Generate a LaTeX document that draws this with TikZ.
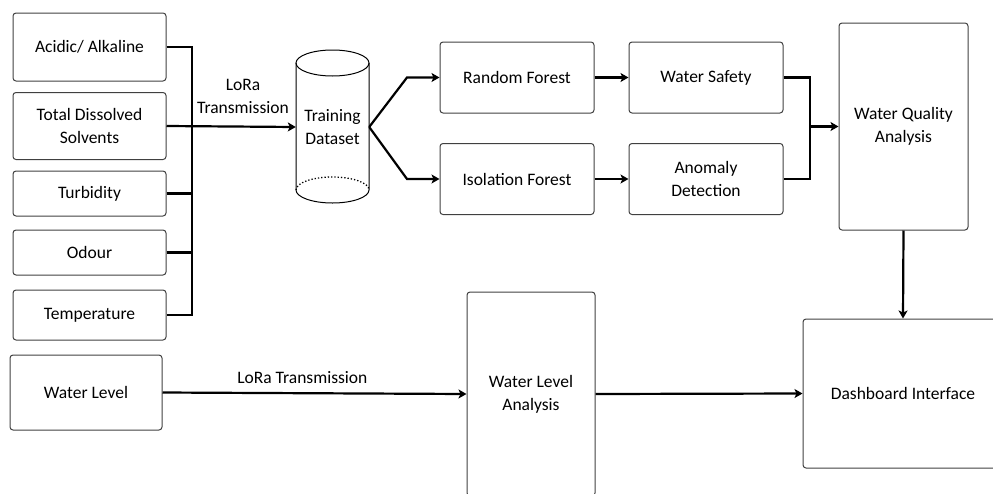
\documentclass[tikz,border=0pt]{standalone}
\usepackage{fontspec}
\setmainfont{Carlito}
\usetikzlibrary{arrows.meta}
\tikzset{
  box/.style={draw=black!75, line width=1pt, rounded corners=3pt, align=center, inner sep=0pt},
  conn/.style={line width=2.2pt, black},
  arr/.style={conn, -{Stealth[length=8pt,width=9pt,inset=2pt]}},
}
\begin{document}
\begin{tikzpicture}[x=1pt, y=-1pt, font=\fontsize{17.5}{23}\selectfont]
\path[use as bounding box] (0,0) rectangle (993,493);
\clip (0,0) rectangle (993,493);
% sensors
\node[box, minimum width=153, minimum height=68] (acid) at (89.5,47) {Acidic/ Alkaline};
\node[box, minimum width=153, minimum height=67] (tds) at (89.5,126) {Total Dissolved\\Solvents};
\node[box, minimum width=153, minimum height=45] (turb) at (89.5,193.5) {Turbidity};
\node[box, minimum width=153, minimum height=45] (odour) at (89.5,252.5) {Odour};
\node[box, minimum width=153, minimum height=50] (temp) at (89.5,315) {Temperature};
\node[box, minimum width=152, minimum height=75] (wlevel) at (86,392.5) {Water Level};
\coordinate (bus) at (192,0);
\draw[conn] (acid.east) -| (bus |- temp.east) -- (temp.east);
\draw[conn] (turb.east) -- (turb.east -| bus);
\draw[conn] (odour.east) -- (odour.east -| bus);
% training dataset
\draw[line width=1pt] (332.5,63) ellipse[x radius=36.5, y radius=13];
\draw[line width=1pt] (296,63) -- (296,190) arc[start angle=180, end angle=0, x radius=36.5, y radius=13] -- (369,63);
\draw[line width=1.3pt, dotted] (296,190) arc[start angle=180, end angle=360, x radius=36.5, y radius=13];
\node[minimum width=73, minimum height=100, align=center, inner sep=0pt] (train) at (332.5,127) {Training\\Dataset};
\draw[arr] (tds.east) -- (train.west);
\node[align=center] (lora1) at (243,96) {LoRa\\Transmission};
% models
\node[box, minimum width=154, minimum height=71] (rf) at (517,77.5) {Random Forest};
\node[box, minimum width=154, minimum height=71] (iso) at (517,179) {Isolation Forest};
\node[box, minimum width=154, minimum height=71] (ws) at (706,77.5) {Water Safety};
\node[box, minimum width=154, minimum height=71] (ad) at (706,179) {Anomaly\\Detection};
\coordinate (fork) at (407,0);
\draw[arr] (train.east) -- (fork |- rf.west) -- (rf.west);
\draw[arr] (train.east) -- (fork |- iso.west) -- (iso.west);
\draw[arr] (rf.east) -- (ws.west);
\draw[arr] (iso.east) -- (ad.west);
\node[box, minimum width=129, minimum height=207] (wqa) at (903.5,126.5) {Water Quality\\Analysis};
\coordinate (join) at (810,0);
\draw[conn] (ws.east) -| (join |- ad.east) -- (ad.east);
\draw[arr] (join |- wqa.west) -- (wqa.west);
% water level and dashboard
\node[box, minimum width=128, minimum height=204] (wla) at (531,394) {Water Level\\Analysis};
\node[box, minimum width=200, minimum height=149] (dash) at (903,393.5) {Dashboard Interface};
\draw[arr] (wlevel.east) -- (wla.west) node[pos=0.46, above=5pt] (lora2) {LoRa Transmission};
\draw[arr] (wla.east) -- (dash.west);
\draw[arr] (wqa.south) -- (dash.north);
\end{tikzpicture}
\end{document}
